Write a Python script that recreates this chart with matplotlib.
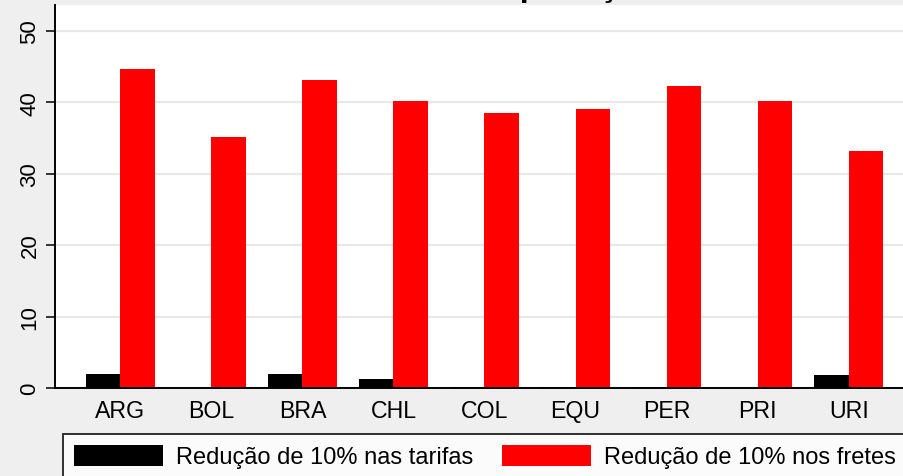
import matplotlib
matplotlib.use("Agg")
import matplotlib.pyplot as plt
import numpy as np

categories = ["ARG", "BOL", "BRA", "CHL", "COL", "EQU", "PER", "PRI", "URI"]
tarifas = [1.9, 0.0, 1.9, 1.3, 0.08, 0.08, 0.08, 0.0, 1.8]
fretes = [44.6, 35.1, 43.1, 40.2, 38.5, 39.0, 42.2, 40.1, 33.1]
series_labels = ["Redução de 10% nas tarifas", "Redução de 10% nos fretes"]
yticks = [0, 10, 20, 30, 40, 50]
title_text = "Efeito sobre as exportações"

plt.rcParams['font.family'] = ['Liberation Sans', 'DejaVu Sans']

W, H = 904, 477
fig = plt.figure(figsize=(W / 100, H / 100), dpi=100)
fig.patch.set_facecolor("#efefef")

left_px, right_px, top_px, bottom_px = 55, 914, 6, 389
ax = fig.add_axes([left_px / W, 1 - bottom_px / H,
                   (right_px - left_px) / W, (bottom_px - top_px) / H])
ax.set_facecolor("white")

x = np.arange(len(categories))
bw = 0.379
ax.bar(x - bw / 2, tarifas, width=bw, color="black", label=series_labels[0], zorder=3)
ax.bar(x + bw / 2, fretes, width=bw, color="#ff0000", label=series_labels[1], zorder=3)

ax.set_xlim(-0.717, len(categories) - 1 + 0.717)
ax.set_ylim(0, 53.6)
ax.set_xticks(x)
ax.set_xticklabels(categories, fontsize=16.7)
ax.set_yticks(yticks)
ax.set_yticklabels([str(t) for t in yticks], fontsize=16, rotation=90, va="center")
ax.tick_params(axis="x", length=0, pad=8.0)
ax.tick_params(axis="y", length=6.5, width=1.1, pad=4.0, color="black")

ax.yaxis.grid(True, color="#e8e8e8", linewidth=1.6, zorder=0)
ax.set_axisbelow(True)
for s in ["top", "right"]:
    ax.spines[s].set_visible(False)
for s in ["left", "bottom"]:
    ax.spines[s].set_linewidth(1.4)
    ax.spines[s].set_color("black")
ax.spines["bottom"].set_zorder(4)

# title (mostly cut off above the image, only descenders visible)
fig.text(459 / W, 1 + 3.7 / H, title_text, ha="center", va="baseline",
         fontsize=23, fontweight="bold")

leg = fig.legend(loc="upper left", bbox_to_anchor=(63 / W, 1 - 435 / H),
                 ncol=2, fontsize=17, frameon=True, fancybox=False,
                 handlelength=3.77, handleheight=1.0, handletextpad=0.55,
                 columnspacing=1.23, borderpad=0.45, borderaxespad=0)
leg.get_frame().set_edgecolor("black")
leg.get_frame().set_linewidth(1.4)
leg.get_frame().set_facecolor("white")

fig.savefig("out.png", dpi=100, facecolor=fig.get_facecolor())
